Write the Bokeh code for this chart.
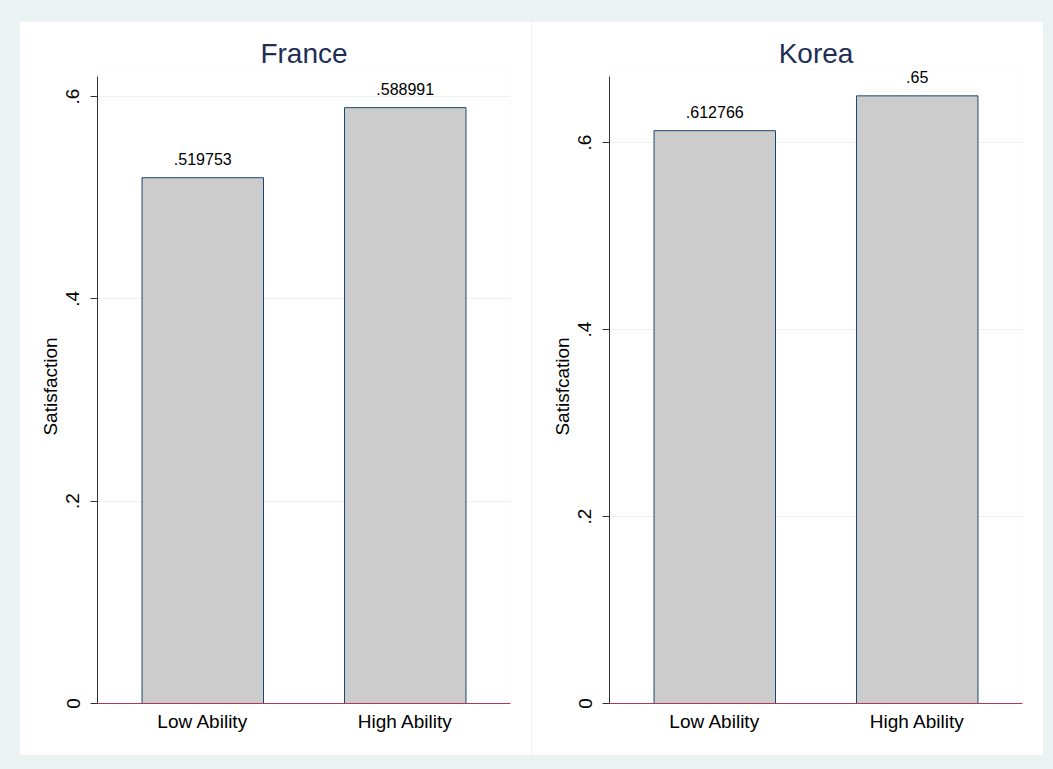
from bokeh.plotting import figure
from bokeh.models import (FactorRange, Range1d, FixedTicker, ColumnDataSource,
                          Spacer, GlobalInlineStyleSheet)
from bokeh.layouts import row, column
from bokeh.core.properties import value
from bokeh.embed import file_html
from bokeh.resources import INLINE

# ---- data ----
categories = ["Low Ability", "High Ability"]
france_values = [0.519753, 0.588991]
korea_values = [0.612766, 0.65]
panel_titles = ["France", "Korea"]
y_axis_titles = ["Satisfaction", "Satisfcation"]
y_ticks = [0, 0.2, 0.4, 0.6]
y_tick_labels = ["0", ".2", ".4", ".6"]
y_max = [0.6198, 0.6707]

FONT = "Liberation Sans"
BG = "#EAF2F3"
FRAME_H = 627     # height of the drawn axis
EXTRA = 7         # headroom above the axis so value labels are not clipped


def make_panel(title, ytitle, vals, ymax):
    p = figure(
        x_range=FactorRange(factors=categories, range_padding=0.02),
        y_range=Range1d(0, ymax * (FRAME_H + EXTRA) / FRAME_H),
        frame_width=413, frame_height=FRAME_H + EXTRA,
        min_border_left=78, min_border_right=21,
        min_border_top=55 - EXTRA, min_border_bottom=52,
        output_backend="svg", toolbar_location=None,
        background_fill_color="white", border_fill_color="white",
        outline_line_color=None,
    )
    p.title.text = title
    p.title.align = "center"
    p.title.text_font = FONT
    p.title.text_font_size = "28px"
    p.title.text_font_style = "normal"
    p.title.text_color = "#1F2E55"
    p.title.standoff = 1

    src = ColumnDataSource(dict(
        x=categories, top=vals,
        lab=[f"{v:g}".lstrip("0") for v in vals],
    ))
    p.vbar(x="x", top="top", width=0.6, bottom=0, source=src,
           fill_color="#CCCCCC", line_color="#1A476F", line_width=1)
    p.text(x="x", y="top", text="lab", source=src, y_offset=-19,
           text_align="center", text_baseline="alphabetic",
           text_font=value(FONT), text_font_size="16px", text_color="black")

    # y axis
    ya = p.yaxis[0]
    ya.bounds = (0, ymax)
    ya.ticker = FixedTicker(ticks=y_ticks)
    ya.major_label_overrides = {t: l for t, l in zip(y_ticks, y_tick_labels)}
    ya.major_label_orientation = "vertical"
    ya.major_label_text_font = FONT
    ya.major_label_text_font_size = "19px"
    ya.major_label_text_color = "black"
    ya.major_label_standoff = 11
    ya.major_tick_out = 7
    ya.major_tick_in = 0
    ya.minor_tick_out = 0
    ya.minor_tick_in = 0
    ya.major_tick_line_color = "#333333"
    ya.axis_line_color = "#333333"
    ya.axis_label = ytitle
    ya.axis_label_text_font = FONT
    ya.axis_label_text_font_size = "19px"
    ya.axis_label_text_font_style = "normal"
    ya.axis_label_text_color = "black"
    ya.axis_label_standoff = 3

    # x axis
    xa = p.xaxis[0]
    xa.major_tick_out = 0
    xa.major_tick_in = 0
    xa.axis_line_color = "#B4345A"
    xa.major_label_text_font = FONT
    xa.major_label_text_font_size = "19px"
    xa.major_label_text_color = "black"
    xa.major_label_standoff = 7

    p.xgrid.grid_line_color = None
    p.ygrid.ticker = FixedTicker(ticks=y_ticks)
    p.ygrid.grid_line_color = BG
    p.ygrid.grid_line_width = 1
    return p


p1 = make_panel(panel_titles[0], y_axis_titles[0], france_values, y_max[0])
p2 = make_panel(panel_titles[1], y_axis_titles[1], korea_values, y_max[1])

layout = column(
    Spacer(height=21, width=10),
    row(Spacer(width=19, height=10), p1, p2),
    Spacer(height=14, width=10),
)
layout.stylesheets = [GlobalInlineStyleSheet(css=f"html, body {{ background-color: {BG}; }}")]

with open("out.html", "w") as f:
    f.write(file_html(layout, INLINE))
